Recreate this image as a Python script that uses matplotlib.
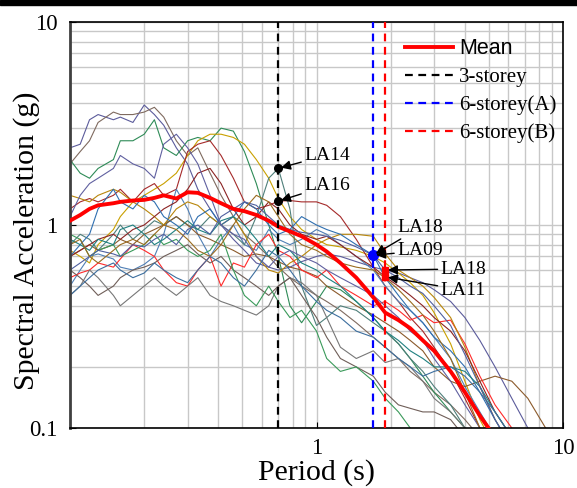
import numpy as np
import matplotlib.pyplot as plt
from matplotlib.patches import Rectangle
from matplotlib.ticker import FixedLocator, NullFormatter, LogLocator

plt.rcParams['font.family'] = ['Liberation Serif', 'DejaVu Serif']

# periods (s)
T = [0.10, 0.11, 0.12, 0.13, 0.15, 0.16, 0.18, 0.20, 0.22, 0.24,
     0.27, 0.30, 0.33, 0.37, 0.41, 0.46, 0.51, 0.57, 0.64, 0.70,
     0.78, 0.87, 1.0, 1.1, 1.25, 1.45, 1.7, 1.9, 2.15, 2.4,
     2.7, 3.0, 3.5, 4.0, 4.6, 5.3, 6.2, 7.2, 8.5, 10.0]

# spectral acceleration of each record (g)
r01 = [2.4, 2.5, 3.3, 3.5, 3.3, 3.4, 3.2, 3.9, 3.5, 3.1, 2.4, 2.0, 1.5, 1.2, 1.0, 0.85, 0.75, 0.65, 0.62, 0.6,
       0.62, 0.66, 0.7, 0.72, 0.7, 0.66, 0.62, 0.6, 0.58, 0.55, 0.52, 0.48, 0.42, 0.35, 0.27, 0.2, 0.14, 0.1, 0.075, 0.06]
r02 = [2.0, 2.3, 2.6, 3.2, 3.6, 3.5, 3.5, 3.6, 3.8, 3.4, 2.6, 2.2, 2.4, 1.8, 1.4, 1.1, 0.9, 0.8, 0.7, 0.62,
       0.55, 0.5, 0.45, 0.42, 0.38, 0.33, 0.28, 0.25, 0.22, 0.19, 0.17, 0.15, 0.13, 0.11, 0.09, 0.07, 0.06, 0.05, 0.04, 0.03]
r03 = [2.1, 1.8, 1.7, 1.9, 2.1, 2.6, 2.6, 2.8, 3.3, 2.4, 2.2, 2.6, 2.7, 2.6, 3.0, 2.9, 2.3, 1.6, 1.0, 0.7,
       0.4, 0.33, 0.42, 0.5, 0.48, 0.42, 0.35, 0.3, 0.26, 0.22, 0.18, 0.15, 0.12, 0.1, 0.08, 0.065, 0.05, 0.04, 0.035, 0.03]
r04 = [0.75, 0.7, 0.65, 0.8, 0.95, 1.1, 1.3, 1.4, 1.5, 1.6, 1.8, 2.2, 2.6, 2.8, 2.8, 2.7, 2.5, 2.1, 1.7, 1.35,
       1.1, 0.95, 0.85, 0.8, 0.78, 0.75, 0.7, 0.65, 0.58, 0.52, 0.45, 0.37, 0.26, 0.17, 0.11, 0.08, 0.06, 0.05, 0.04, 0.03]
r05 = [1.2, 1.3, 1.35, 1.3, 1.4, 1.5, 1.3, 1.5, 1.6, 1.4, 1.5, 2.3, 2.5, 2.6, 2.2, 1.7, 1.3, 1.2, 1.25, 1.31,
       1.32, 1.3, 1.3, 1.25, 1.1, 0.85, 0.62, 0.5, 0.42, 0.35, 0.3, 0.25, 0.19, 0.14, 0.1, 0.075, 0.06, 0.05, 0.04, 0.03]
r06 = [0.5, 0.6, 0.7, 0.72, 0.68, 0.62, 0.6, 0.64, 0.7, 0.9, 1.5, 1.2, 0.9, 0.7, 0.85, 1.0, 0.8, 0.75, 0.95, 0.85,
       0.8, 0.85, 0.95, 0.9, 0.8, 0.7, 0.6, 0.5, 0.42, 0.38, 0.33, 0.28, 0.22, 0.16, 0.12, 0.09, 0.07, 0.055, 0.045, 0.035]
r07 = [0.8, 0.9, 0.85, 0.75, 0.9, 1.0, 0.85, 0.95, 1.05, 1.0, 1.1, 1.0, 0.95, 1.1, 1.0, 0.9, 0.8, 1.1, 1.7, 1.9,
       1.2, 0.5, 0.32, 0.35, 0.4, 0.38, 0.33, 0.3, 0.26, 0.22, 0.19, 0.16, 0.13, 0.1, 0.08, 0.06, 0.05, 0.04, 0.03, 0.025]
r08 = [0.7, 0.75, 0.8, 0.75, 0.8, 0.85, 0.8, 0.9, 0.95, 1.0, 1.1, 1.0, 0.9, 0.85, 0.8, 0.75, 0.7, 0.72, 0.7, 0.66,
       0.62, 0.6, 0.56, 0.5, 0.45, 0.4, 0.36, 0.33, 0.3, 0.27, 0.24, 0.2, 0.17, 0.16, 0.17, 0.18, 0.17, 0.14, 0.1, 0.08]
r09 = [0.55, 0.58, 0.6, 0.65, 0.62, 0.68, 0.8, 0.75, 0.7, 0.6, 0.52, 0.5, 0.6, 0.7, 0.5, 0.65, 0.62, 0.8, 0.9, 0.75,
       0.7, 0.6, 0.55, 0.6, 0.5, 0.45, 0.4, 0.42, 0.38, 0.34, 0.36, 0.33, 0.34, 0.26, 0.18, 0.13, 0.1, 0.08, 0.06, 0.05]
r10 = [0.45, 0.5, 0.6, 0.55, 0.45, 0.4, 0.45, 0.5, 0.55, 0.5, 0.45, 0.5, 0.55, 0.45, 0.42, 0.4, 0.38, 0.36, 0.4, 0.5,
       0.55, 0.52, 0.45, 0.35, 0.25, 0.22, 0.24, 0.21, 0.22, 0.2, 0.17, 0.14, 0.12, 0.1, 0.08, 0.06, 0.05, 0.04, 0.03, 0.025]
r11 = [0.6, 0.55, 0.5, 0.45, 0.5, 0.55, 0.6, 0.62, 0.65, 0.7, 0.75, 0.8, 0.72, 0.65, 0.7, 0.6, 0.55, 0.5, 0.45, 0.5,
       0.55, 0.45, 0.35, 0.28, 0.22, 0.2, 0.18, 0.15, 0.13, 0.125, 0.12, 0.12, 0.11, 0.09, 0.07, 0.05, 0.04, 0.03, 0.025, 0.02]
r12 = [0.9, 0.85, 0.7, 0.75, 0.8, 0.7, 0.75, 0.8, 0.9, 0.8, 0.85, 0.75, 0.7, 0.75, 0.9, 0.6, 0.45, 0.4, 0.5, 0.42,
       0.35, 0.38, 0.3, 0.22, 0.19, 0.2, 0.17, 0.14, 0.12, 0.1, 0.08, 0.065, 0.05, 0.04, 0.03, 0.025, 0.02, 0.015, 0.012, 0.01]
r13 = [1.4, 1.35, 1.3, 1.4, 1.5, 1.45, 1.3, 1.2, 1.1, 1.0, 1.2, 1.3, 1.25, 1.1, 1.0, 1.1, 0.9, 0.7, 0.6, 0.58,
       0.65, 0.7, 0.8, 0.85, 0.9, 0.9, 0.88, 0.72, 0.6, 0.55, 0.5, 0.44, 0.35, 0.25, 0.16, 0.11, 0.08, 0.06, 0.05, 0.04]
r14 = [0.7, 0.75, 0.8, 0.85, 0.9, 0.85, 0.95, 1.0, 1.1, 1.2, 1.3, 1.5, 1.8, 1.9, 1.6, 1.2, 1.0, 1.1, 1.3, 1.2,
       1.0, 0.9, 0.85, 0.88, 0.8, 0.7, 0.62, 0.555, 0.5, 0.45, 0.4, 0.35, 0.3, 0.24, 0.17, 0.12, 0.09, 0.07, 0.05, 0.04]
r15 = [0.7, 0.8, 0.9, 1.2, 1.5, 1.3, 1.2, 1.4, 1.3, 1.1, 1.0, 0.9, 1.1, 1.2, 1.0, 1.1, 1.3, 1.2, 1.0, 0.9,
       0.95, 1.1, 1.0, 0.95, 0.9, 0.8, 0.71, 0.55, 0.45, 0.38, 0.33, 0.28, 0.24, 0.2, 0.15, 0.11, 0.08, 0.06, 0.05, 0.04]
r16 = [0.85, 0.8, 0.75, 0.85, 0.8, 0.95, 1.0, 0.9, 0.8, 0.85, 0.95, 1.05, 0.95, 0.9, 1.05, 1.1, 1.0, 0.85, 0.7, 0.8,
       0.75, 0.65, 0.6, 0.55, 0.5, 0.42, 0.35, 0.3, 0.27, 0.24, 0.22, 0.2, 0.2, 0.19, 0.16, 0.12, 0.09, 0.07, 0.05, 0.04]
r17 = [0.6, 0.65, 0.7, 0.75, 0.72, 0.7, 0.8, 0.78, 0.85, 0.9, 0.8, 0.95, 1.0, 0.9, 1.1, 1.2, 1.3, 1.25, 1.1, 1.0,
       0.95, 0.92, 0.9, 0.88, 0.84, 0.78, 0.71, 0.60, 0.55, 0.5, 0.46, 0.4, 0.32, 0.23, 0.16, 0.11, 0.08, 0.06, 0.05, 0.04]
r18 = [1.1, 1.4, 1.6, 1.7, 1.9, 2.2, 2.0, 1.9, 1.7, 2.5, 2.8, 2.4, 2.0, 1.4, 1.0, 0.9, 0.85, 0.7, 0.62, 0.7,
       0.75, 0.7, 0.65, 0.6, 0.55, 0.5, 0.45, 0.4, 0.35, 0.3, 0.27, 0.22, 0.17, 0.13, 0.1, 0.075, 0.055, 0.04, 0.03, 0.025]
r19 = [0.8, 0.85, 0.7, 0.65, 0.75, 0.8, 0.85, 0.8, 0.9, 1.0, 0.95, 0.85, 0.75, 0.7, 0.8, 1.0, 1.2, 1.4, 1.3, 1.1,
       0.9, 0.8, 0.75, 0.7, 0.65, 0.62, 0.6, 0.55, 0.48, 0.42, 0.36, 0.3, 0.22, 0.15, 0.1, 0.07, 0.05, 0.04, 0.03, 0.025]
r20 = [0.45, 0.5, 0.55, 0.6, 0.65, 0.6, 0.55, 0.58, 0.65, 0.6, 0.55, 0.52, 0.6, 0.7, 0.65, 0.55, 0.5, 0.6, 0.75, 0.7,
       0.6, 0.5, 0.42, 0.38, 0.35, 0.3, 0.28, 0.25, 0.22, 0.2, 0.18, 0.19, 0.2, 0.18, 0.15, 0.12, 0.09, 0.07, 0.05, 0.04]

mean = [1.05, 1.12, 1.2, 1.25, 1.28, 1.3, 1.32, 1.33, 1.36, 1.4, 1.35, 1.45, 1.44, 1.36, 1.28, 1.2, 1.17, 1.12, 1.05, 0.98,
        0.93, 0.88, 0.8, 0.74, 0.65, 0.55, 0.44, 0.37, 0.34, 0.31, 0.27, 0.24, 0.19, 0.15, 0.115, 0.09, 0.07, 0.055, 0.045, 0.035]

records = [r01, r02, r03, r04, r05, r06, r07, r08, r09, r10,
           r11, r12, r13, r14, r15, r16, r17, r18, r19, r20]
colors = ['#5b5b9b', '#7f6a5f', '#2e8b57', '#c9a000', '#a52a2a', '#4f7fb5', '#4e7f7a', '#8b5a2b', '#ff2a2a', '#777777',
          '#6f5e58', '#3a9a5a', '#b8860b', '#8b2323', '#2f6fb0', '#1f8080', '#4f5f9f', '#6060a0', '#9a6b1f', '#3c6e9e']

# building periods
T3 = 0.7
T6A = 1.7
T6B = 1.9

fig = plt.figure(figsize=(5.77, 4.88), dpi=100)
fig.patches.append(Rectangle((0, 1 - 5 / 488), 1, 5 / 488, transform=fig.transFigure,
                             color='black', zorder=10))
ax = fig.add_axes([70 / 577, 1 - 428 / 488, 493 / 577, 406 / 488])

for rec, c in zip(records, colors):
    ax.plot(T, rec, color=c, lw=0.8)

ax.plot(T, mean, color='red', lw=2.8, label='Mean', zorder=5)
ax.axvline(T3, color='black', ls=(0, (3.5, 2.5)), lw=1.6, label='3-storey', zorder=6)
ax.axvline(T6A, color='blue', ls=(0, (3.5, 2.5)), lw=1.6, label='6-storey(A)', zorder=6)
ax.axvline(T6B, color='red', ls=(0, (3.5, 2.5)), lw=1.6, label='6-storey(B)', zorder=6)

# marked records at the building periods
ax.plot([T3, T3], [r07[19], r05[19]], 'o', color='black', ms=5.5, zorder=7)
ax.plot([T6A], [r17[26]], 'o', color='blue', ms=7, zorder=7)
ax.plot([T6B, T6B], [r17[27], r14[27]], 's', color='red', ms=5, zorder=7)

arr = dict(arrowstyle='-|>', color='black', lw=1, mutation_scale=14, shrinkA=0, shrinkB=2)
ax.annotate('LA14', xy=(T3, r07[19]), xytext=(0.89, 2.21), va='center', fontsize=14, arrowprops=arr, zorder=8)
ax.annotate('LA16', xy=(T3, r05[19]), xytext=(0.89, 1.56), va='center', fontsize=14, arrowprops=arr, zorder=8)
ax.annotate('LA18', xy=(T6A, r17[26]), xytext=(2.12, 0.97), va='center', fontsize=14, arrowprops=arr, zorder=8)
ax.annotate('LA09', xy=(T6A, r15[26]), xytext=(2.12, 0.745), va='center', fontsize=14, arrowprops=arr, zorder=8)
ax.annotate('LA18', xy=(T6B, r17[27]), xytext=(3.18, 0.607), va='center', fontsize=14, arrowprops=arr, zorder=8)
ax.annotate('LA11', xy=(T6B, r14[27]), xytext=(3.18, 0.478), va='center', fontsize=14, arrowprops=arr, zorder=8)

ax.set_xscale('log')
ax.set_yscale('log')
ax.set_xlim(0.1, 10)
ax.set_ylim(0.1, 10)
ax.xaxis.set_major_locator(FixedLocator([1, 10]))
ax.set_xticklabels(['1', '10'])
ax.yaxis.set_major_locator(FixedLocator([0.1, 1, 10]))
ax.set_yticklabels(['0.1', '1', '10'])
ax.xaxis.set_minor_locator(LogLocator(base=10, subs=np.arange(2, 10)))
ax.yaxis.set_minor_locator(LogLocator(base=10, subs=np.arange(2, 10)))
ax.xaxis.set_minor_formatter(NullFormatter())
ax.yaxis.set_minor_formatter(NullFormatter())
ax.grid(True, which='both', color='#c8c8c8', lw=1)
ax.set_axisbelow(True)
ax.tick_params(which='major', direction='in', length=4, labelsize=16.5)
ax.tick_params(axis='y', pad=9)
ax.tick_params(axis='x', pad=7)
ax.tick_params(which='minor', length=0)
for s in ax.spines.values():
    s.set_color('black')
    s.set_linewidth(1.2)
ax.spines['left'].set_color('#404040')
ax.spines['left'].set_linewidth(2)

ax.set_xlabel('Period (s)', fontsize=21.5, labelpad=0)
ax.set_ylabel('Spectral Acceleration (g)', fontsize=21.5)
ax.yaxis.set_label_coords(-0.06, 0.46)

leg = ax.legend(loc='upper left', bbox_to_anchor=(0.68, 0.96), frameon=False, fontsize=15,
                handlelength=2.3, handletextpad=0.3, labelspacing=0.4, borderpad=0, borderaxespad=0)
leg.get_texts()[0].set_fontfamily('Liberation Sans')
leg.get_texts()[0].set_fontsize(15.5)

plt.savefig('out.png', dpi=100)
